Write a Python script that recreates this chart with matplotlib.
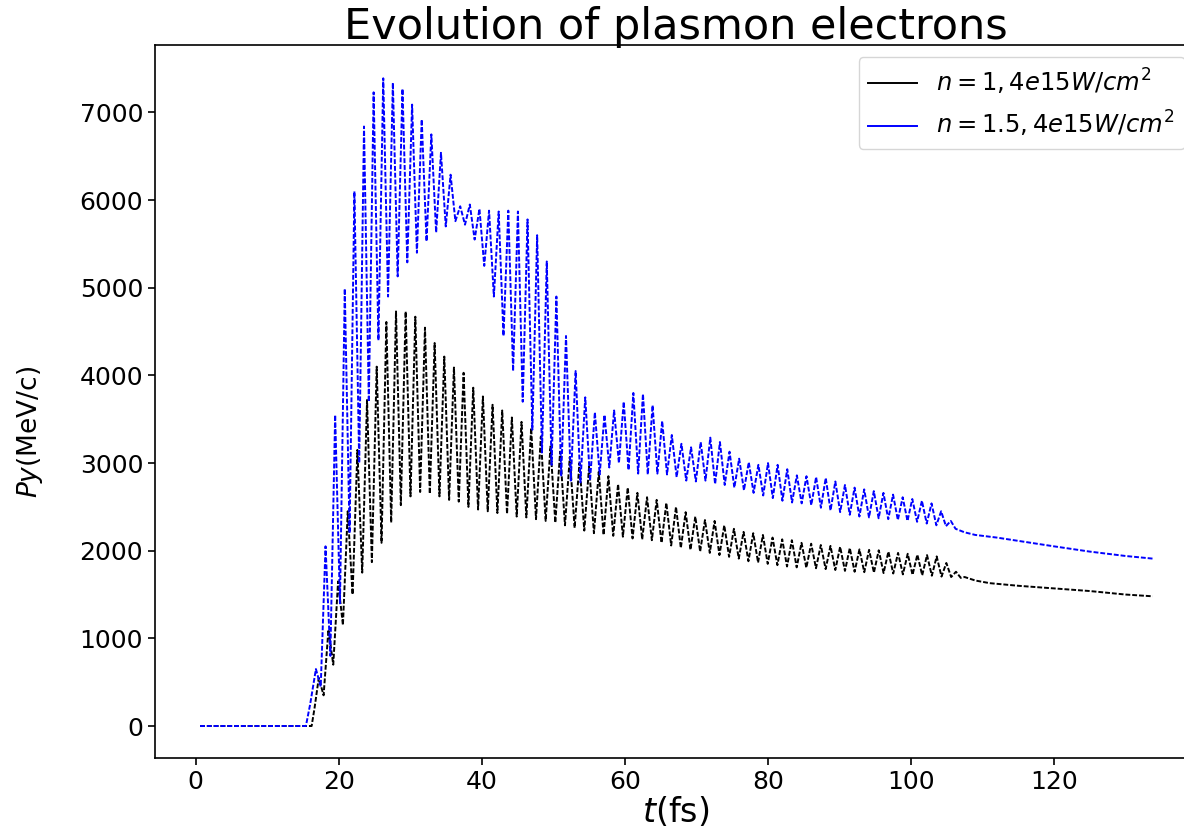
import numpy as np
import matplotlib
matplotlib.use("Agg")
import matplotlib.pyplot as plt
from matplotlib.lines import Line2D

# ---------------- data ----------------
# oscillation grid (fs): first peak time and period of the fast oscillation
blue_t0, blue_period = 16.8, 1.345
black_t0, black_period = 17.2, 1.35

blue_peaks = [650, 2050, 3550, 4990, 6100, 6840, 7230, 7390, 7340, 7270,
              7090, 6920, 6750, 6540, 6290, 5930, 5950, 5900, 5880, 5870,
              5880, 5870, 5780, 5600, 5300, 4900, 4450, 4050, 3750, 3580,
              3550, 3600, 3700, 3800, 3790, 3660, 3480, 3320, 3220, 3180,
              3240, 3290, 3240, 3130, 3050, 3010, 2980, 3000, 2980, 2930,
              2860, 2850, 2840, 2830, 2790, 2750, 2720, 2700, 2680, 2660,
              2640, 2610, 2590, 2570, 2540, 2450, 2340]
blue_troughs = [450, 800, 1400, 2200, 3000, 3700, 4400, 4900, 5130, 5290,
                5400, 5530, 5630, 5700, 5760, 5720, 5550, 5250, 4900, 4450,
                4050, 3700, 3380, 3120, 2980, 2850, 2800, 2780, 2800, 2870,
                2950, 3000, 2920, 2880, 2870, 2880, 2870, 2840, 2800, 2790,
                2800, 2760, 2750, 2720, 2690, 2660, 2630, 2600, 2570, 2550,
                2540, 2520, 2490, 2460, 2440, 2410, 2390, 2380, 2370, 2360,
                2350, 2340, 2330, 2310, 2290, 2280, 2250]
blue_pre_t = [0.6, 15.4, 16.0]
blue_pre_y = [0, 0, 250]
blue_tail_t = [107.5, 109, 112, 116, 120, 125, 130, 133.8]
blue_tail_y = [2210, 2180, 2150, 2100, 2050, 1990, 1940, 1910]

black_peaks = [550, 1100, 1650, 2450, 3150, 3720, 4100, 4610, 4730, 4730,
               4670, 4545, 4370, 4215, 4090, 4030, 3860, 3760, 3665, 3600,
               3520, 3470, 3400, 3300, 3190, 3130, 3070, 3000, 2960, 2900,
               2850, 2760, 2720, 2660, 2610, 2580, 2545, 2500, 2440, 2390,
               2350, 2340, 2290, 2250, 2215, 2200, 2180, 2150, 2130, 2120,
               2090, 2080, 2065, 2055, 2045, 2030, 2015, 2010, 2005, 1990,
               1975, 1965, 1955, 1950, 1935, 1860, 1760]
black_troughs = [350, 700, 1150, 1500, 1750, 1870, 2090, 2320, 2520, 2620,
                 2670, 2650, 2620, 2580, 2560, 2500, 2470, 2450, 2430, 2420,
                 2390, 2380, 2360, 2340, 2320, 2290, 2260, 2230, 2200, 2180,
                 2170, 2160, 2140, 2130, 2120, 2090, 2060, 2030, 2010, 1990,
                 1975, 1950, 1930, 1910, 1880, 1865, 1850, 1835, 1820, 1810,
                 1805, 1800, 1790, 1780, 1770, 1760, 1755, 1750, 1745, 1740,
                 1730, 1725, 1720, 1715, 1705, 1700, 1690]
black_pre_t = [0.6, 16.2, 16.6]
black_pre_y = [0, 0, 200]
black_tail_t = [107.5, 109, 111, 115, 120, 125, 130, 133.8]
black_tail_y = [1700, 1660, 1630, 1600, 1570, 1540, 1500, 1480]

labels = [r"$n = 1, 4e15W/cm^2$", r"$n = 1.5, 4e15W/cm^2$"]
colors = ["black", "blue"]


def build(t0, period, peaks, troughs, pre_t, pre_y, tail_t, tail_y):
    n = len(peaks)
    tp = t0 + period * np.arange(n)
    tt = tp + period / 2.0
    t = np.empty(2 * n)
    y = np.empty(2 * n)
    t[0::2], t[1::2] = tp, tt
    y[0::2], y[1::2] = peaks, troughs
    return (np.concatenate([pre_t, t, tail_t]),
            np.concatenate([pre_y, y, tail_y]))


tk, yk = build(black_t0, black_period, black_peaks, black_troughs,
               black_pre_t, black_pre_y, black_tail_t, black_tail_y)
tb, yb = build(blue_t0, blue_period, blue_peaks, blue_troughs,
               blue_pre_t, blue_pre_y, blue_tail_t, blue_tail_y)

# ---------------- figure ----------------
W, H = 1184, 834
fig = plt.figure(figsize=(W / 100, H / 100), dpi=100)
ax = fig.add_axes([155 / W, (H - 758) / H, (1197 - 155) / W, (758 - 45) / H])

dash = (0, (2.5, 1.0))
ax.plot(tk, yk, color=colors[0], lw=1.4, linestyle=dash)
ax.plot(tb, yb, color=colors[1], lw=1.4, linestyle=dash)

ax.set_xlim(-5.7, 140.0)
ax.set_ylim(-365, 7770)
ax.set_xticks([0, 20, 40, 60, 80, 100, 120])
ax.set_yticks([0, 1000, 2000, 3000, 4000, 5000, 6000, 7000])
ax.tick_params(labelsize=18, width=1.2, length=5)
for s in ax.spines.values():
    s.set_linewidth(1.2)

ax.set_title("Evolution of plasmon electrons", fontsize=31, y=1.0, pad=4)
ax.set_xlabel(r"$t$(fs)", fontsize=24, labelpad=1)
ax.set_ylabel(r"$Py$(MeV/c)", fontsize=19)
ax.yaxis.set_label_coords((45 - 155) / 1042, (758 - 432) / 713)

handles = [Line2D([0], [0], color=c, lw=1.4) for c in colors]
ax.legend(handles, labels, loc="upper right", fontsize=17.5,
          bbox_to_anchor=(1.0, 1.0), borderaxespad=0.5)

fig.savefig("out.png", dpi=100)
